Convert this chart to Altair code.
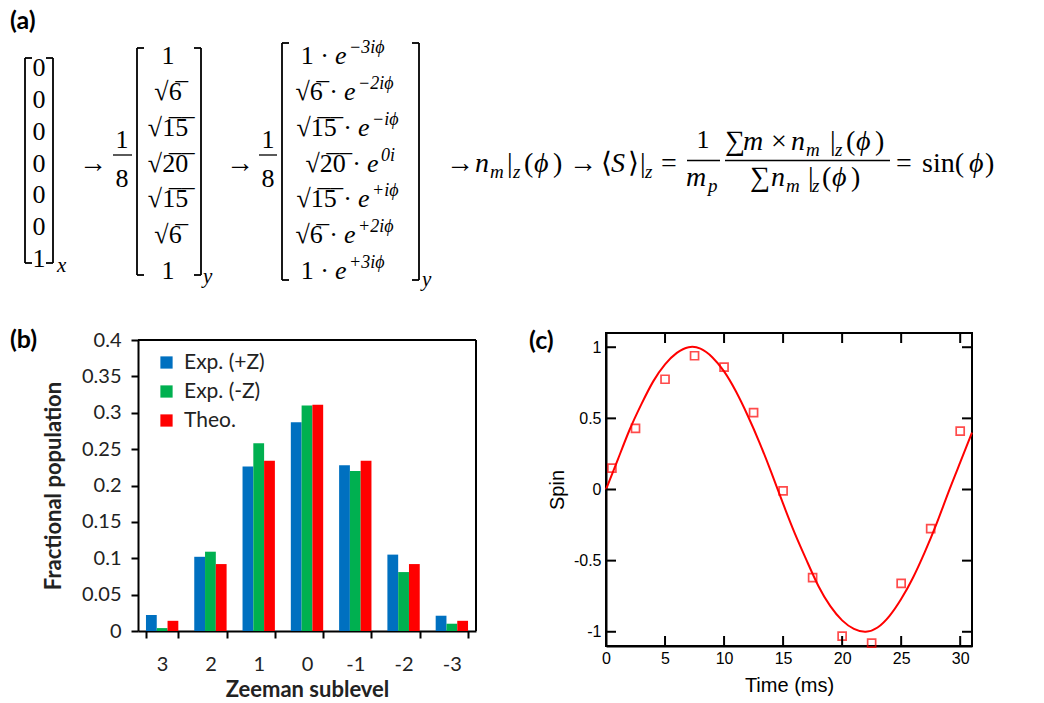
import altair as alt
import pandas as pd

# ---------------- data ----------------
zeeman_levels = ["3", "2", "1", "0", "-1", "-2", "-3"]
series_names = ["Exp. (+Z)", "Exp. (-Z)", "Theo."]
series_colors = ["#0070C0", "#00B050", "#FF0000"]
pop_exp_plus = [0.022, 0.102, 0.226, 0.287, 0.228, 0.105, 0.021]
pop_exp_minus = [0.004, 0.109, 0.258, 0.310, 0.220, 0.081, 0.010]
pop_theo = [0.014, 0.092, 0.234, 0.311, 0.234, 0.092, 0.014]
pop_ticks = [0, 0.05, 0.1, 0.15, 0.2, 0.25, 0.3, 0.35, 0.4]

time_meas = [0.5, 2.5, 5, 7.5, 10, 12.5, 15, 17.5, 20, 22.5, 25, 27.5, 30]
spin_meas = [0.15, 0.43, 0.775, 0.94, 0.86, 0.54, -0.01, -0.62, -1.03, -1.08, -0.66, -0.275, 0.41]
time_fit = list(range(0, 32))
spin_fit = [0.00, 0.21, 0.42, 0.60, 0.76, 0.88, 0.96, 1.00, 0.99, 0.93, 0.83, 0.69,
            0.52, 0.33, 0.12, -0.10, -0.31, -0.50, -0.68, -0.82, -0.92, -0.98, -1.00,
            -0.97, -0.89, -0.77, -0.62, -0.44, -0.24, -0.02, 0.19, 0.40]
time_ticks = [0, 5, 10, 15, 20, 25, 30]
spin_ticks = [-1, -0.5, 0, 0.5, 1]

vec_x = ["0", "0", "0", "0", "0", "0", "1"]
vec_y = ["1", "√6", "√15", "√20", "√15", "√6", "1"]
phases = ["−3iϕ", "−2iϕ", "−iϕ", "0i", "+iϕ", "+2iϕ", "+3iϕ"]

# ---------------- helpers ----------------
dummy = pd.DataFrame({"k": [0]})
MATH = "Liberation Serif"
LABF = "Lato"
OX = 138  # page x of the shared column origin (panel (b) plot origin)


def rad(s):
    if s.startswith("√"):
        return "√" + "".join(c + "\u0305" for c in s[1:])
    return s


layers_a = []


def T(x, y, s, size=28, it=False, align="left", font=MATH, weight="normal", baseline="alphabetic"):
    layers_a.append(
        alt.Chart(dummy).mark_text(
            text=s, font=font, fontSize=size, fontStyle="italic" if it else "normal",
            fontWeight=weight, align=align, baseline=baseline, color="black"
        ).encode(x=alt.value(x - OX), y=alt.value(y))
    )


def L(x1, y1, x2, y2, w=1.8):
    layers_a.append(
        alt.Chart(dummy).mark_rule(color="black", strokeWidth=w).encode(
            x=alt.value(x1 - OX), x2=alt.value(x2 - OX), y=alt.value(y1), y2=alt.value(y2)
        )
    )


def bracket(x, y1, y2, d):
    L(x, y1, x, y2)
    L(x, y1, x + d, y1)
    L(x, y2, x + d, y2)


# ---------------- panel (a): equation ----------------
T(10, 21, "(a)", 25, font=LABF, weight="bold", baseline="middle")

rows1 = [76, 108, 140, 171.5, 203, 235, 267]
for r, s in zip(rows1, vec_x):
    T(39, r, s, 26, align="center")
bracket(25, 58, 263, 7)
bracket(53, 58, 263, -7)
T(57, 272, "x", 21, it=True)

T(79, 172, "→")
T(122, 148, "1", 26, align="center")
L(113, 155, 132, 155, 1.3)
T(122, 187, "8", 26, align="center")

rows2 = [64, 100, 136, 171.5, 207, 243, 279]
for r, s in zip(rows2, vec_y):
    T(168, r, rad(s), 26, align="center")
bracket(137, 48, 275, 7)
bracket(201, 48, 275, -7)
T(203, 283, "y", 21, it=True)

T(226, 172, "→")
T(268, 148, "1", 26, align="center")
L(259, 155, 277, 155, 1.3)
T(268, 187, "8", 26, align="center")

e_x = [335, 344, 358, 367, 358, 344, 335]
for r, c, p, xe in zip(rows2, vec_y, phases, e_x):
    T(xe - 6, r, rad(c) + " ·", 26, align="right")
    T(xe, r, "e", 26, it=True)
    T(xe + 14, r - 11, p, 18, it=True)
bracket(282, 43, 280, 7)
bracket(419, 43, 280, -7)
T(422, 286, "y", 21, it=True)

T(446, 172, "→")
T(475, 172, "n", it=True)
T(490, 178, "m", 19, it=True)
T(507, 172, "|")
T(513, 178, "z", 19, it=True)
T(524, 172, "(")
T(534, 172, "ϕ", it=True)
T(553, 172, ")")
T(569, 172, "→")
T(601, 172, "⟨")
T(611, 172, "S", it=True)
T(628, 172, "⟩")
T(640, 172, "|")
T(645, 178, "z", 19, it=True)
T(661, 172, "=")
T(703, 148, "1", 26, align="center")
L(687, 160.5, 720, 160.5, 1.3)
T(686, 186, "m", it=True)
T(708, 192, "p", 19, it=True)
# numerator
T(725, 150, "∑")
T(743, 150, "m", it=True)
T(771, 150, "×")
T(791, 150, "n", it=True)
T(806, 156, "m", 19, it=True)
T(830, 150, "|")
T(835, 156, "z", 19, it=True)
T(846, 150, "(")
T(856, 150, "ϕ", it=True)
T(875, 150, ")")
L(725, 160.5, 890, 160.5, 1.3)
# denominator
T(750, 186, "∑")
T(771, 186, "n", it=True)
T(786, 192, "m", 19, it=True)
T(808, 186, "|")
T(812, 192, "z", 19, it=True)
T(822, 186, "(")
T(832, 186, "ϕ", it=True)
T(851, 186, ")")
T(896, 172, "=")
T(922, 172, "sin(")
T(969, 172, "ϕ", it=True)
T(985, 172, ")")

panel_a = alt.layer(*layers_a).properties(
    width=1044 - OX, height=300, view=alt.ViewBackground(stroke=None)
)

# ---------------- panel (b): bar chart ----------------
BW, BH, BTOP = 338, 298, 7  # plot box top sits 7px below the row origin
bar_df = pd.DataFrame({
    "level": zeeman_levels * 3,
    "series": [s for s in series_names for _ in zeeman_levels],
    "pop": pop_exp_plus + pop_exp_minus + pop_theo,
})

b_bars = alt.Chart(bar_df).mark_bar().encode(
    x=alt.X(
        "level:N", sort=zeeman_levels,
        scale=alt.Scale(paddingInner=0.33, paddingOuter=0.165),
        axis=alt.Axis(
            title="Zeeman sublevel", labelAngle=0, tickBand="extent", tickSize=7,
            tickWidth=2, tickColor="black", domainColor="black", domainWidth=2,
            labelPadding=16, labelFont=LABF, labelFontSize=20, labelColor="#222",
            titleFont=LABF, titleFontSize=22, titleFontWeight="bold", titleColor="#222",
            titlePadding=5,
        ),
    ),
    xOffset=alt.XOffset("series:N", sort=series_names),
    y=alt.Y(
        "pop:Q", scale=alt.Scale(domain=[0, 0.4], nice=False, range=[BH, BTOP]),
        axis=alt.Axis(
            values=pop_ticks, format="~g", title="Fractional population", tickSize=7,
            tickWidth=2, tickColor="black", domainColor="black", domainWidth=2,
            labelPadding=10, labelFont=LABF, labelFontSize=20, labelColor="#222",
            titleFont=LABF, titleFontSize=22, titleFontWeight="bold", titleColor="#222",
            titlePadding=16, grid=False,
        ),
    ),
    color=alt.Color(
        "series:N", sort=series_names,
        scale=alt.Scale(domain=series_names, range=series_colors),
        legend=alt.Legend(
            orient="none", legendX=18, legendY=352, title=None, symbolType="square",
            symbolSize=150, symbolStrokeWidth=0, labelFont=LABF, labelFontSize=21,
            labelColor="#222", rowPadding=7, labelOffset=7, padding=0,
        ),
    ),
)
b_top = alt.Chart(dummy).mark_rule(color="black", strokeWidth=2).encode(
    x=alt.value(0), x2=alt.value(BW), y=alt.value(BTOP))
b_right = alt.Chart(dummy).mark_rule(color="black", strokeWidth=2).encode(
    x=alt.value(BW), y=alt.value(BTOP), y2=alt.value(BH))
b_label = alt.Chart(dummy).mark_text(
    text="(b)", font=LABF, fontSize=25, fontWeight="bold", align="left",
    baseline="middle", color="black"
).encode(x=alt.value(-128), y=alt.value(BTOP))

panel_b = alt.layer(b_bars, b_top, b_right, b_label).properties(
    width=BW, height=BH, view=alt.ViewBackground(stroke=None)
)

# ---------------- panel (c): spin oscillation ----------------
CW, CH = 366, 313
FC = "Liberation Sans"
pts_df = pd.DataFrame({"t": time_meas, "spin": spin_meas})
fit_df = pd.DataFrame({"t": time_fit, "spin": spin_fit})
xt_df = pd.DataFrame({"t": time_ticks[1:]})
yt_df = pd.DataFrame({"spin": spin_ticks})
xs = alt.Scale(domain=[0, 31], nice=False, zero=False)
ys = alt.Scale(domain=[-1.1, 1.1], nice=False, zero=False)

c_line = alt.Chart(fit_df).mark_line(color="#FF0000", strokeWidth=2, interpolate="natural").encode(
    x=alt.X("t:Q", scale=xs, axis=alt.Axis(
        values=time_ticks, title="Time (ms)", ticks=False, tickSize=0, labelFlush=False,
        domainColor="black", domainWidth=2, labelPadding=4, labelFont=FC,
        labelFontSize=16, labelColor="black", titleFont=FC, titleFontSize=20,
        titleFontWeight="normal", titleColor="black", titlePadding=9, grid=False,
    )),
    y=alt.Y("spin:Q", scale=ys, axis=alt.Axis(
        values=spin_ticks, labelExpr="datum.value + ''", title="Spin", ticks=False,
        tickSize=0, labelFlush=False, domainColor="black", domainWidth=2,
        labelPadding=5, labelFont=FC, labelFontSize=16, labelColor="black",
        titleFont=FC, titleFontSize=20, titleFontWeight="normal", titleColor="black",
        titlePadding=6, grid=False,
    )),
)
c_pts = alt.Chart(pts_df).mark_point(
    shape="square", size=64, color="#FF0000", strokeWidth=1.7, filled=False
).encode(x="t:Q", y="spin:Q")

tick_style = dict(color="black", strokeWidth=2)
c_xt_bottom = alt.Chart(xt_df).mark_rule(**tick_style).encode(
    x="t:Q", y=alt.value(CH), y2=alt.value(CH - 10))
c_xt_top = alt.Chart(xt_df).mark_rule(**tick_style).encode(
    x="t:Q", y=alt.value(0), y2=alt.value(10))
c_yt_left = alt.Chart(yt_df).mark_rule(**tick_style).encode(
    y="spin:Q", x=alt.value(0), x2=alt.value(10))
c_yt_right = alt.Chart(yt_df).mark_rule(**tick_style).encode(
    y="spin:Q", x=alt.value(CW), x2=alt.value(CW - 10))
c_label = alt.Chart(dummy).mark_text(
    text="(c)", font=LABF, fontSize=25, fontWeight="bold", align="left",
    baseline="middle", color="black"
).encode(x=alt.value(-77), y=alt.value(7.7))

panel_c = alt.layer(
    c_line, c_pts, c_xt_bottom, c_xt_top, c_yt_left, c_yt_right, c_label
).properties(width=CW, height=CH)

chart = alt.vconcat(
    panel_a,
    alt.hconcat(panel_b, panel_c, spacing=51),
    spacing=27,
).properties(
    padding={"left": 10, "top": 0, "right": 0, "bottom": 0},
).configure_view(stroke="black", strokeWidth=2).configure_axis(grid=False)

chart.save("out.html", embed_options={"renderer": "svg", "actions": False})
